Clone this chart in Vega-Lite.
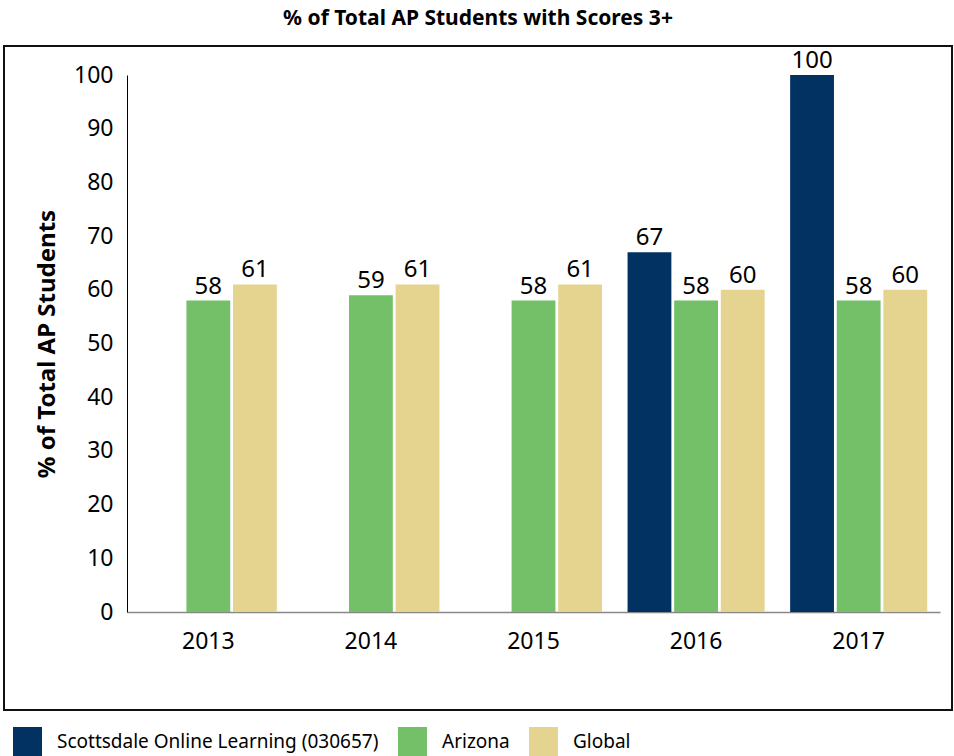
{
  "$schema": "https://vega.github.io/schema/vega-lite/v6.json",
  "autosize": "none",
  "padding": {"left": 4, "top": 46, "right": 2, "bottom": 46},
  "width": 948,
  "height": 664,
  "title": {
    "text": "% of Total AP Students with Scores 3+",
    "font": "Noto Sans",
    "fontSize": 21,
    "fontWeight": "bold",
    "color": "#000",
    "anchor": "middle",
    "offset": 17
  },
  "data": {
    "values": [
      {"year": "2013", "group": "Arizona", "value": 58},
      {"year": "2013", "group": "Global", "value": 61},
      {"year": "2014", "group": "Arizona", "value": 59},
      {"year": "2014", "group": "Global", "value": 61},
      {"year": "2015", "group": "Arizona", "value": 58},
      {"year": "2015", "group": "Global", "value": 61},
      {"year": "2016", "group": "Scottsdale Online Learning (030657)", "value": 67},
      {"year": "2016", "group": "Arizona", "value": 58},
      {"year": "2016", "group": "Global", "value": 60},
      {"year": "2017", "group": "Scottsdale Online Learning (030657)", "value": 100},
      {"year": "2017", "group": "Arizona", "value": 58},
      {"year": "2017", "group": "Global", "value": 60}
    ]
  },
  "encoding": {
    "x": {
      "field": "year",
      "type": "nominal",
      "scale": {"range": [123, 936], "paddingInner": 0.157, "paddingOuter": 0.0787},
      "axis": {
        "title": null,
        "labelAngle": 0,
        "offset": -98,
        "ticks": false,
        "tickSize": 0,
        "labelPadding": 18,
        "labelFont": "Noto Sans",
        "labelFontSize": 23,
        "labelColor": "#000",
        "domainColor": "#888",
        "domainWidth": 1.5
      }
    },
    "xOffset": {
      "field": "group",
      "type": "nominal",
      "scale": {"domain": ["Scottsdale Online Learning (030657)", "Arizona", "Global"], "paddingInner": 0.06, "paddingOuter": 0}
    },
    "y": {
      "field": "value",
      "type": "quantitative",
      "scale": {"domain": [0, 100], "range": [566, 29], "nice": false},
      "axis": {
        "title": "% of Total AP Students",
        "titleFont": "Noto Sans",
        "titleFontSize": 24,
        "titleFontWeight": "bold",
        "titleColor": "#000",
        "titlePadding": 14,
        "offset": -123,
        "values": [0, 10, 20, 30, 40, 50, 60, 70, 80, 90, 100],
        "grid": false,
        "ticks": false,
        "tickSize": 0,
        "labelPadding": 14,
        "labelFont": "Noto Sans",
        "labelFontSize": 23,
        "labelColor": "#000",
        "domainColor": "#000",
        "domainWidth": 1
      }
    }
  },
  "layer": [
    {
      "mark": {"type": "bar"},
      "encoding": {
        "color": {
          "field": "group",
          "type": "nominal",
          "scale": {
            "domain": ["Scottsdale Online Learning (030657)", "Arizona", "Global"],
            "range": ["#013262", "#73C069", "#E4D48F"]
          },
          "legend": {
            "title": null,
            "orient": "none",
            "direction": "horizontal",
            "legendX": 9,
            "legendY": 681,
            "symbolType": "square",
            "symbolSize": 841,
            "symbolStrokeWidth": 0,
            "symbolOpacity": 1,
            "labelFont": "Noto Sans",
            "labelFontSize": 19,
            "labelColor": "#000",
            "labelOffset": 15,
            "columnPadding": 19,
            "labelLimit": 500
          }
        }
      }
    },
    {
      "mark": {"type": "text", "baseline": "alphabetic", "dy": -7, "font": "Noto Sans", "fontSize": 24, "color": "#000"},
      "encoding": {
        "text": {"field": "value", "type": "quantitative"}
      }
    }
  ],
  "config": {
    "view": {"stroke": "#111", "strokeWidth": 2}
  }
}
